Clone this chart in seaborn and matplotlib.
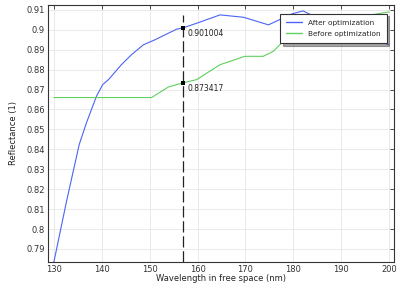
import numpy as np
import pandas as pd
import matplotlib
matplotlib.use("Agg")
import matplotlib.pyplot as plt
import seaborn as sns
from matplotlib.lines import Line2D

# Data
wl_after = [130, 132.65, 135.3, 136.8, 138.9, 140.2, 141.4, 144.1, 146.2,
            148.7, 151.1, 155.6, 157, 159.8, 164.7, 169.6, 174.8, 179.7, 182,
            185, 190, 195, 200]
refl_after = [0.7834, 0.8140, 0.8425, 0.8533, 0.8667, 0.8725, 0.875, 0.8825, 0.8875,
              0.8925, 0.895, 0.9003, 0.901004, 0.9033, 0.9075, 0.9063, 0.9025, 0.908, 0.9095,
              0.906, 0.901, 0.8965, 0.8925]
wl_before = [130, 150.4, 153.9, 157, 159.8, 164.7, 169.9, 173.7, 175.8, 179.3,
             185, 190, 195, 200]
refl_before = [0.866, 0.866, 0.8713, 0.873417, 0.875, 0.8825, 0.8867, 0.8867, 0.8892, 0.8975,
               0.902, 0.905, 0.907, 0.909]
series_names = ["After optimization", "Before optimization"]
cursor_x = 157
cursor_vals = [0.901004, 0.873417]
x_ticks = [130, 140, 150, 160, 170, 180, 190, 200]
y_ticks = [0.79, 0.80, 0.81, 0.82, 0.83, 0.84, 0.85, 0.86, 0.87, 0.88, 0.89, 0.90, 0.91]
y_tick_labels = ["0.79", "0.8", "0.81", "0.82", "0.83", "0.84", "0.85", "0.86", "0.87",
                 "0.88", "0.89", "0.9", "0.91"]

df = pd.concat([
    pd.DataFrame({"wl": wl_after, "R": refl_after, "series": series_names[0]}),
    pd.DataFrame({"wl": wl_before, "R": refl_before, "series": series_names[1]}),
])

sns.set_theme(style="whitegrid")
plt.rcParams['font.family'] = ['DejaVu Sans']

fig = plt.figure(figsize=(4.2, 2.9), dpi=100)
ax = fig.add_axes([0.114, 0.097, 0.824, 0.886])

palette = {series_names[0]: "#4a64f5", series_names[1]: "#5ed15e"}
sns.lineplot(data=df, x="wl", y="R", hue="series", palette=palette, ax=ax,
             linewidth=0.8, legend=False, sort=False)

ax.axvline(cursor_x, ymin=0.0, ymax=0.96, color="#222222", lw=0.9, ls=(0, (9, 3)))
ax.scatter([cursor_x] * 2, cursor_vals, marker="s", s=7, color="black", lw=0, zorder=5)
for v in cursor_vals:
    ax.annotate(f"{v:.6f}", (cursor_x, v), xytext=(3, -4), textcoords="offset points",
                fontsize=5.5, color="#222222", va="center")

ax.set_xlim(128.75, 201)
ax.set_ylim(0.7835, 0.9125)
ax.set_xticks(x_ticks)
ax.set_yticks(y_ticks)
ax.set_yticklabels(y_tick_labels)
ax.tick_params(axis="both", labelsize=6, direction="in", length=3, width=0.6,
               colors="#333333", top=True, right=True, pad=2)
ax.tick_params(labeltop=False, labelright=False)
ax.grid(True, color="#e6e6e6", lw=0.6)
for s in ax.spines.values():
    s.set_color("#333333")
    s.set_linewidth(0.8)
ax.set_facecolor("white")

ax.set_xlabel("Wavelength in free space (nm)", fontsize=6, labelpad=0, color="#222222")
ax.set_ylabel("Reflectance (1)", fontsize=6, labelpad=6, color="#222222")

handles = [Line2D([], [], color=palette[n], lw=1.0) for n in series_names]
leg = ax.legend(handles, series_names, loc="upper right", bbox_to_anchor=(0.985, 0.975),
                fontsize=5.3, frameon=True, fancybox=False, shadow=True,
                handlelength=2.2, handletextpad=0.8, borderpad=0.8, labelspacing=0.7,
                borderaxespad=0.3)
leg.get_frame().set_edgecolor("#333333")
leg.get_frame().set_linewidth(0.8)

fig.savefig("out.png", dpi=100)
